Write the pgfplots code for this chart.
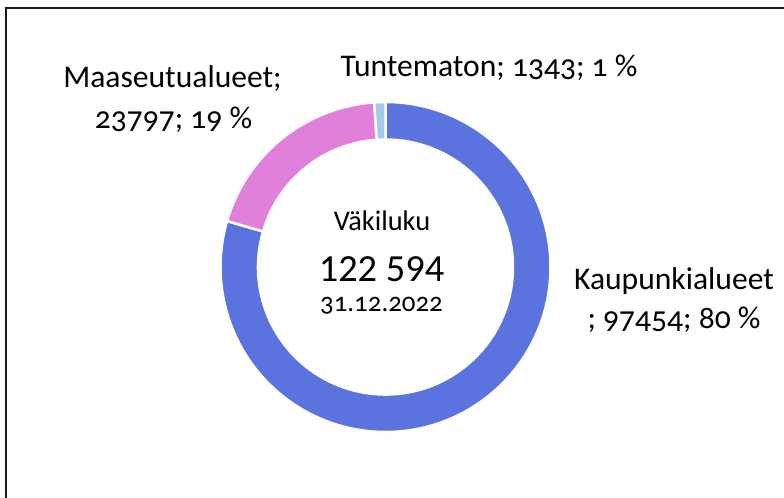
\documentclass[border=0pt]{standalone}
\usepackage{pgfplots}
\pgfplotsset{compat=1.18}
\usepackage{pgfplotstable}
\usepackage{fontspec}
\setmainfont{Carlito}
\newfontfamily\labelfont[Numbers=OldStyle]{Carlito}

\definecolor{cK}{RGB}{91,115,222}
\definecolor{cM}{RGB}{224,128,218}
\definecolor{cT}{RGB}{166,200,236}

\pgfplotstableread{
name value
Kaupunkialueet 97454
Maaseutualueet 23797
Tuntematon 1343
}\donutdata

\begin{document}
\begin{tikzpicture}
\pgfplotstablegetelem{0}{value}\of\donutdata \edef\vK{\pgfplotsretval}
\pgfplotstablegetelem{1}{value}\of\donutdata \edef\vM{\pgfplotsretval}
\pgfplotstablegetelem{2}{value}\of\donutdata \edef\vT{\pgfplotsretval}
\edef\tot{\fpeval{\vK+\vM+\vT}}
\edef\aA{90}
\edef\aB{\fpeval{round(90-360*\vK/\tot,4)}}
\edef\aC{\fpeval{round(\aB-360*\vM/\tot,4)}}
\edef\aD{\fpeval{round(\aC-360*\vT/\tot,4)}}
\useasboundingbox (0,0) rectangle (784bp,498bp);
\begin{axis}[at={(0,0)},anchor=south west,scale only axis,
  width=784bp,height=498bp,xmin=0,xmax=784,ymin=0,ymax=498,
  y dir=reverse,hide axis,clip=false]
\addplot[draw=none,forget plot] coordinates {(0,0) (784,498)};
% donut wedges
\filldraw[fill=cK,draw=white,line width=2.5bp] (axis cs:385.5,267) ++(\aA:165bp)
  arc[start angle=\aA,end angle=\aB,radius=165bp] -- ++(\aB:-37.5bp)
  arc[start angle=\aB,end angle=\aA,radius=127.5bp] -- cycle;
\filldraw[fill=cM,draw=white,line width=2.5bp] (axis cs:385.5,267) ++(\aB:165bp)
  arc[start angle=\aB,end angle=\aC,radius=165bp] -- ++(\aC:-37.5bp)
  arc[start angle=\aC,end angle=\aB,radius=127.5bp] -- cycle;
\filldraw[fill=cT,draw=white,line width=2.5bp] (axis cs:385.5,267) ++(\aC:165bp)
  arc[start angle=\aC,end angle=\aD,radius=165bp] -- ++(\aD:-37.5bp)
  arc[start angle=\aD,end angle=\aC,radius=127.5bp] -- cycle;
% frame
\draw[line width=2.2bp,black!90] (axis cs:6,498) -- (axis cs:6,8) -- (axis cs:784,8);
% labels
\node[anchor=base,inner sep=0pt,font=\labelfont\fontsize{31.7}{38}\selectfont] at (axis cs:489,76.7) {Tuntematon; 1343; 1 \%};
\node[anchor=base,inner sep=0pt,font=\labelfont\fontsize{31.7}{38}\selectfont] at (axis cs:172.5,88) {Maaseutualueet;};
\node[anchor=base,inner sep=0pt,font=\labelfont\fontsize{31.7}{38}\selectfont] at (axis cs:173.5,128) {23797; 19 \%};
\node[anchor=base,inner sep=0pt,font=\labelfont\fontsize{31.7}{38}\selectfont] at (axis cs:674,289) {Kaupunkialueet};
\node[anchor=base,inner sep=0pt,font=\labelfont\fontsize{31.7}{38}\selectfont] at (axis cs:674,328) {; 97454; 80 \%};
% centre text
\node[anchor=base,inner sep=0pt,font=\fontsize{28.5}{32}\selectfont] at (axis cs:382,230.7) {Väkiluku};
\node[anchor=base,inner sep=0pt,font=\fontsize{38.5}{44}\selectfont] at (axis cs:381.5,281.7) {122 594};
\node[anchor=base,inner sep=0pt,font=\labelfont\fontsize{27}{32}\selectfont] at (axis cs:381.5,311.7) {31.12.2022};
\end{axis}
\end{tikzpicture}
\end{document}
